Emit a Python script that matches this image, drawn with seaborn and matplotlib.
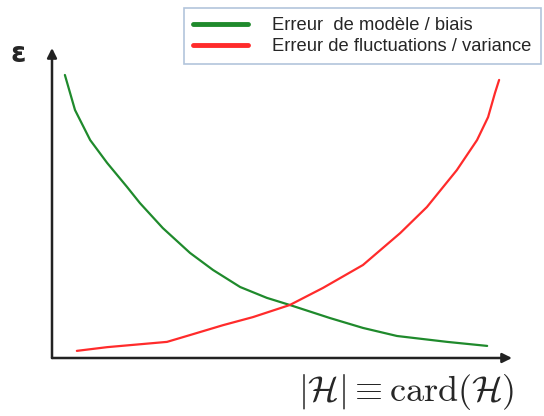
import matplotlib
matplotlib.use("Agg")
import matplotlib.pyplot as plt
import seaborn as sns

# courbes (unites arbitraires 0..10)
x_biais = [0.28, 0.50, 0.83, 1.20, 1.63, 1.91, 2.41, 3.00, 3.50, 4.09, 4.67, 5.17,
           6.04, 6.76, 7.50, 8.59, 9.46]
y_biais = [9.13, 8.00, 7.03, 6.29, 5.52, 5.00, 4.19, 3.39, 2.84, 2.29, 1.94, 1.71,
           1.29, 0.97, 0.71, 0.52, 0.39]
x_var = [0.54, 1.20, 2.50, 3.00, 3.72, 4.37, 5.17, 5.89, 6.76, 7.57, 8.15, 8.80,
         9.24, 9.48, 9.63, 9.72]
y_var = [0.23, 0.35, 0.52, 0.74, 1.06, 1.32, 1.71, 2.26, 3.00, 4.03, 4.87, 6.06,
         7.03, 7.77, 8.55, 8.97]
labels = ["Erreur  de modèle / biais", "Erreur de fluctuations / variance"]

sns.set_style("white")
plt.rcParams['font.family'] = ['Liberation Sans', 'DejaVu Sans']
plt.rcParams['mathtext.fontset'] = 'cm'

fig = plt.figure(figsize=(5.44, 4.16), dpi=100)
ax = fig.add_axes([52 / 544, 58 / 416, 460 / 544, 310 / 416])

sns.lineplot(x=x_biais, y=y_biais, color='#1f8a2c', lw=1.6, ax=ax, label=labels[0], legend=False)
sns.lineplot(x=x_var, y=y_var, color='#ff2b2b', lw=1.6, ax=ax, label=labels[1], legend=False)

ax.set_xlim(0, 10)
ax.set_ylim(0, 10)
ax.set_xticks([])
ax.set_yticks([])
for s in ax.spines.values():
    s.set_visible(False)

# axes avec fleches
arrow = dict(arrowstyle='-|>', color='#222222', lw=1.8, mutation_scale=14, shrinkA=0, shrinkB=0)
ax.annotate("", xy=(1.0, 0), xytext=(0, 0), xycoords='axes fraction', arrowprops=arrow)
ax.annotate("", xy=(0, 1.0), xytext=(0, 0), xycoords='axes fraction', arrowprops=arrow)

fig.text(18 / 544, 1 - 54 / 416, "ε", fontsize=20, fontweight='bold', ha='center', va='center',
         family=['DejaVu Sans'])
fig.text(406 / 544, 1 - 392 / 416, r"$|\mathcal{H}| \equiv \mathrm{card}(\mathcal{H})$",
         fontsize=26, ha='center', va='center')

h, l = ax.get_legend_handles_labels()
leg = fig.legend(h, l, loc='upper left', bbox_to_anchor=(184 / 544, 1 - 8 / 416),
                 fontsize=13.2, frameon=True, fancybox=False, shadow=False,
                 handlelength=3.0, handletextpad=1.3, borderpad=0.5,
                 labelspacing=0.22, borderaxespad=0)
leg.get_frame().set_edgecolor('#9fb6d3')
leg.get_frame().set_linewidth(1.2)
for h_ in leg.legend_handles:
    h_.set_linewidth(3.5)

plt.savefig("out.png", dpi=100)
